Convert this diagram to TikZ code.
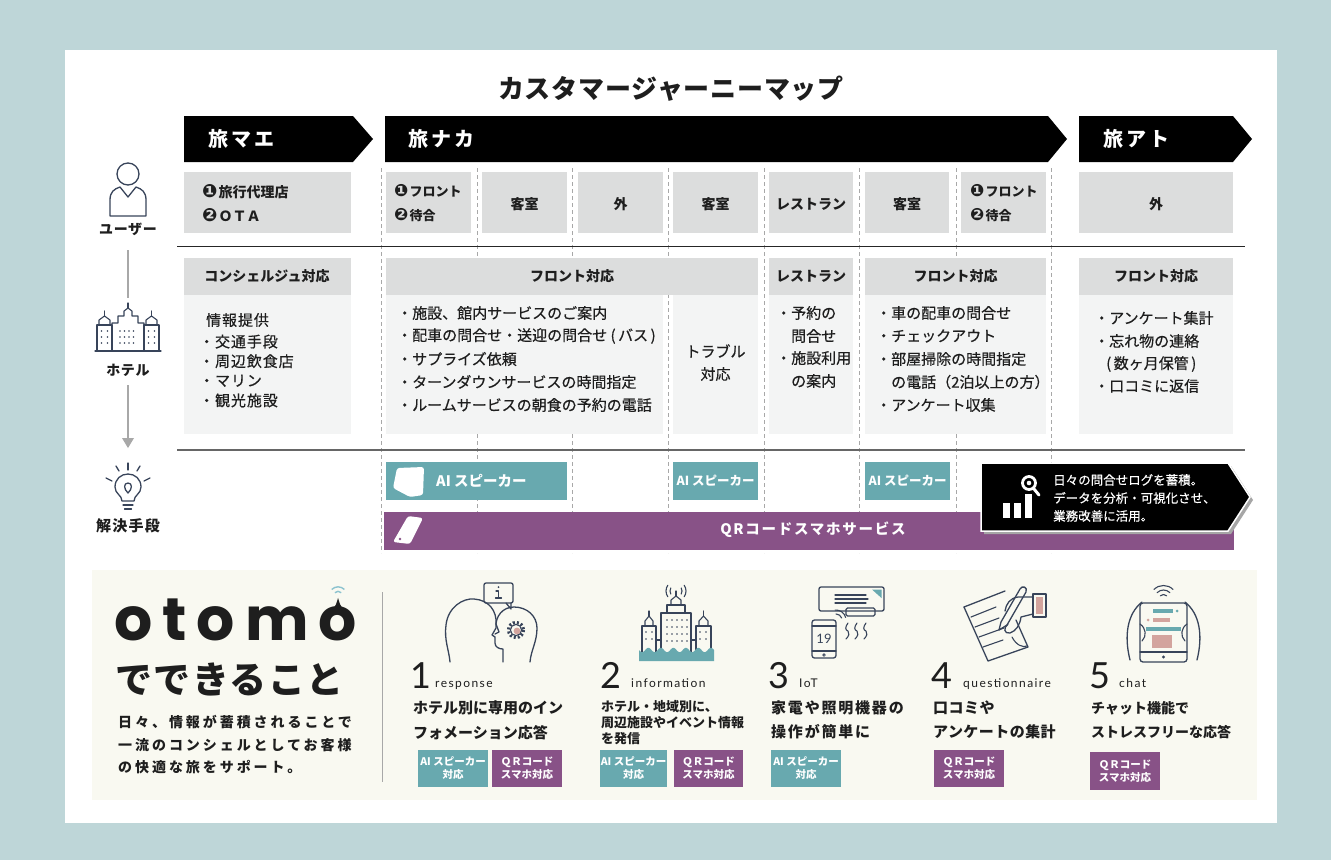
\documentclass[tikz,border=0pt]{standalone}
\usepackage{fontspec}
\setmainfont{Noto Sans CJK JP}
\newfontfamily\medfont{Noto Sans CJK JP}[FakeBold=0.5]
\newfontfamily\symfont{DejaVu Sans}
\newfontfamily\logofont{Poppins}
\newfontfamily\latinfont{Lato}
\usetikzlibrary{calc}
\definecolor{outerbg}{HTML}{BED6D8}
\definecolor{boxgray}{HTML}{DCDDDD}
\definecolor{bodygray}{HTML}{F3F4F4}
\definecolor{aiteal}{HTML}{68A9AF}
\definecolor{qrpurple}{HTML}{885287}
\definecolor{creambg}{HTML}{F9F9F1}
\definecolor{iconnavy}{HTML}{38445A}
\definecolor{pinkish}{HTML}{D3A49E}
\definecolor{inkblack}{HTML}{1E1E1E}
\definecolor{sepgray}{HTML}{A8A8A8}
\definecolor{wifiblue}{HTML}{8CC3CF}
\newcommand\fsz[1]{\fontsize{#1}{#1}\selectfont}
\newcommand\ls[1]{\addfontfeatures{LetterSpace=#1}}
\newcommand\cA{{\symfont\scalebox{1.3}{❶}}\kern1pt}
\newcommand\cB{{\symfont\scalebox{1.3}{❷}}\kern1pt}
\tikzset{
  jt/.style={inner sep=0pt, text=inkblack},
  jb/.style={jt, font=\bfseries\fsz{14}},
  jbody/.style={jt, anchor=west, font=\medfont\fsz{15}},
  tw/.style={inner sep=0pt, text=white},
  ico/.style={draw=iconnavy, line width=1.3pt, line cap=round, line join=round},
  colsep/.style={draw=sepgray, line width=0.7pt, dash pattern=on 4pt off 3pt},
  badge/.style={tw, align=center, font=\bfseries\fontsize{10.5}{13}\selectfont},
  wico/.style={fill=white, rounded corners=2.5pt}
}
\begin{document}
\begin{tikzpicture}[x=1pt,y=-1pt]
\useasboundingbox (0,0) rectangle (1331,860);
% frame
\fill[outerbg] (0,0) rectangle (1331,860);
\fill[white] (65,50) rectangle (1277,823);
\node[jt, font=\bfseries\fsz{26}\ls{3}] (title) at (671,89) {カスタマージャーニーマップ};

% dashed column guides
\foreach \x in {381,477,572,668,764,859,956,1051}
  \draw[colsep] (\x,168) -- (\x,553);

% phase banners
\fill[black] (184,116) -- (353,116) -- (373,139) -- (353,162) -- (184,162) -- cycle;
\fill[black] (385,116) -- (1048,116) -- (1067,139) -- (1048,162) -- (385,162) -- cycle;
\fill[black] (1079,116) -- (1233,116) -- (1252,139) -- (1233,162) -- (1079,162) -- cycle;
\node[tw, anchor=west, font=\bfseries\fsz{20}\ls{15}] (pre) at (208,139) {旅マエ};
\node[tw, anchor=west, font=\bfseries\fsz{20}\ls{15}] (mid) at (408,139) {旅ナカ};
\node[tw, anchor=west, font=\bfseries\fsz{20}\ls{15}] (post) at (1103,139) {旅アト};

% user row
\foreach \a/\b in {184/351,386/471,482/567,578/663,673/758,769/853,865/949,961/1046,1079/1233}
  \fill[boxgray] (\a,172) rectangle (\b,233);
\node[jb, anchor=west] (u1a) at (202,192) {\cA 旅行代理店};
\node[jb, anchor=west] (u1b) at (202,215) {\cB ＯＴＡ};
\node[jb, anchor=west, font=\bfseries\fsz{13}] (u2a) at (394,191) {\cA フロント};
\node[jb, anchor=west, font=\bfseries\fsz{13}] (u2b) at (394,215) {\cB 待合};
\node[jb] (u3) at (524.5,204) {客室};
\node[jb] (u4) at (620.5,204) {外};
\node[jb] (u5) at (715.5,204) {客室};
\node[jb] (u6) at (811,204) {レストラン};
\node[jb] (u7) at (907,204) {客室};
\node[jb, anchor=west, font=\bfseries\fsz{13}] (u8a) at (970,191) {\cA フロント};
\node[jb, anchor=west, font=\bfseries\fsz{13}] (u8b) at (970,215) {\cB 待合};
\node[jb] (u9) at (1156,204) {外};

\draw[black!85, line width=0.9pt] (177,246) -- (1245,246);

% hotel row
\foreach \a/\b in {184/351,386/758,769/853,865/1046,1079/1233}
  \fill[boxgray] (\a,258) rectangle (\b,295);
\foreach \a/\b in {184/351,386/663,673/758,769/853,865/1046,1079/1233}
  \fill[bodygray] (\a,295) rectangle (\b,434);
\node[jb] (h1) at (267,276) {コンシェルジュ対応};
\node[jb] (h2) at (572,276) {フロント対応};
\node[jb] (h3) at (811,276) {レストラン};
\node[jb] (h4) at (955.5,276) {フロント対応};
\node[jb] (h5) at (1156,276) {フロント対応};

\node[jbody, font=\medfont\fsz{15}\ls{6}] (c0) at (206,320) {情報提供};
\foreach \s [count=\i] in {・交通手段,・周辺飲食店,・マリン,・観光施設}
  \node[jbody, font=\medfont\fsz{15}\ls{6}] (c\i) at (199,{322+\i*19.6}) {\s};

\foreach \s [count=\i from 0] in {・施設、館内サービスのご案内,・配車の問合せ・送迎の問合せ (\,バス\,),・サプライズ依頼,・ターンダウンサービスの時間指定,・ルームサービスの朝食の予約の電話}
  \node[jbody] (f\i) at (397,{313+\i*23}) {\s};
\node[jt, font=\medfont\fsz{15}] (tr1) at (715.5,351) {トラブル};
\node[jt, font=\medfont\fsz{15}] (tr2) at (715.5,374) {対応};

\node[jbody] (r0) at (776,313) {・予約の};
\node[jbody] (r1) at (791,336) {問合せ};
\node[jbody] (r2) at (776,358) {・施設利用};
\node[jbody] (r3) at (791,381) {の案内};

\foreach \s [count=\i from 0] in {・車の配車の問合せ,・チェックアウト,・部屋掃除の時間指定,{\hspace*{15pt}の電話（2泊以上の方）},・アンケート収集}
  \node[jbody] (g\i) at (876,{313+\i*23}) {\s};

\node[jbody] (a0) at (1094,318) {・アンケート集計};
\node[jbody] (a1) at (1094,341) {・忘れ物の連絡};
\node[jbody] (a2) at (1106,364) {(\,数ヶ月保管\,)};
\node[jbody] (a3) at (1094,386) {・口コミに返信};

\draw[black!60, line width=1.2pt] (177,450) -- (1245,450);

% solutions row
\fill[aiteal] (386,462) rectangle (567,500);
\fill[aiteal] (673,462) rectangle (758,500);
\fill[aiteal] (865,462) rectangle (950,500);
\fill[wico] (397,468) -- (424,467) -- (423,495) -- (410,497) -- (393,488) -- cycle;
\node[tw, anchor=west, font=\bfseries\fsz{14.5}] (ai1) at (436,481) {AI スピーカー};
\node[tw, font=\bfseries\fsz{12.5}] (ai2) at (715.5,481) {AI スピーカー};
\node[tw, font=\bfseries\fsz{12.5}] (ai3) at (907.5,481) {AI スピーカー};

\fill[qrpurple] (384,512) rectangle (1234,550);
\fill[wico] (408,516) -- (423,518) -- (410,544) -- (393,542) -- cycle;
\fill[qrpurple] (400,539) circle (1.3);
\node[tw, font=\bfseries\fsz{14.5}\ls{12}] (qr) at (813,530) {QRコードスマホサービス};

% log callout
\fill[black!35] (984,466) -- (1231,466) -- (1253,500) -- (1231,534) -- (984,534) -- cycle;
\filldraw[fill=black, draw=white, line width=1.5pt] (981,463) -- (1228,463) -- (1250,497) -- (1228,531) -- (981,531) -- cycle;
\draw[white, line width=2.8pt] (1029,483) circle (6.5);
\fill[white] (1029,483) circle (2.3);
\draw[white, line width=3pt, line cap=round] (1034,489) -- (1039,495);
\fill[white] (1003,503) rectangle (1010,518);
\fill[white] (1014,503) rectangle (1021,518);
\fill[white] (1025,494) rectangle (1032,518);
\node[tw, anchor=west, font=\medfont\fsz{12.5}] (lg1) at (1053,480) {日々の問合せログを蓄積。};
\node[tw, anchor=west, font=\medfont\fsz{12.5}] (lg2) at (1053,498) {データを分析・可視化させ、};
\node[tw, anchor=west, font=\medfont\fsz{12.5}] (lg3) at (1053,516) {業務改善に活用。};

% left axis: user
\draw[ico] (128,174) circle (11);
\draw[ico] (110,216) -- (110,200) .. controls (110,192) and (114,189) .. (120,187) -- (128,197) -- (136,187) .. controls (142,189) and (146,192) .. (146,200) -- (146,216) -- cycle;
\node[jb, font=\bfseries\fsz{14}\ls{5}] (lu) at (128,229) {ユーザー};
\draw[sepgray, line width=1.3pt] (128,250) -- (128,298);
% left axis: hotel
\draw[ico, line width=1.1pt] (95,351) -- (161,351);
\draw[ico, line width=1.1pt] (97,351) -- (97,325) -- (112,325) -- (112,351);
\draw[ico, line width=1.1pt] (99,325) -- (99,320) -- (104.5,316) -- (110,320) -- (110,325);
\draw[ico, line width=1.1pt] (104.5,316) -- (104.5,311);
\draw[ico, line width=1.1pt] (112,351) -- (112,323) -- (118,323) -- (118,316) -- (124,316) -- (124,311) -- (128,308) -- (132,311) -- (132,316) -- (138,316) -- (138,323) -- (144,323) -- (144,351);
\draw[ico, line width=1.1pt] (128,308) -- (128,303);
\draw[ico, line width=1.1pt] (144,351) -- (144,325) -- (159,325) -- (159,351);
\draw[ico, line width=1.1pt] (146,325) -- (146,320) -- (151.5,316) -- (157,320) -- (157,325);
\draw[ico, line width=1.1pt] (151.5,316) -- (151.5,311);
\foreach \yy in {331,337,343}{
  \fill[iconnavy] (101.5,\yy) circle (0.85); \fill[iconnavy] (107.5,\yy) circle (0.85);
  \fill[iconnavy] (148.5,\yy) circle (0.85); \fill[iconnavy] (154.5,\yy) circle (0.85);
  \foreach \xx in {120,124.5,129,133.5} \fill[iconnavy] (\xx,\yy) circle (0.85);}
\node[jb, font=\bfseries\fsz{14}\ls{5}] (lh) at (128,370) {ホテル};
\draw[sepgray, line width=1.3pt] (128,385) -- (128,439);
\fill[sepgray] (122,438) -- (134,438) -- (128,448) -- cycle;
% left axis: solution
\draw[ico] (122,501) .. controls (122,495) and (115,494) .. (115,487) .. controls (115,479) and (121,474) .. (128,474) .. controls (135,474) and (141,479) .. (141,487) .. controls (141,494) and (134,495) .. (134,501) -- cycle;
\draw[ico] (123,505) -- (133,505);
\draw[ico] (124.5,509) -- (131.5,509);
\draw[ico] (128,493) .. controls (123.5,489) and (123.5,483) .. (128,483) .. controls (132.5,483) and (132.5,489) .. (128,493);
\draw[ico] (128,463) -- (128,470);
\draw[ico] (116,466) -- (119,471);
\draw[ico] (140,466) -- (137,471);
\draw[ico] (106,478) -- (112,481);
\draw[ico] (150,478) -- (144,481);
\node[jb, font=\bfseries\fsz{15}\ls{8}] (ls) at (128,526) {解決手段};

% what otomo does
\fill[creambg] (92,570) rectangle (1257,800);
\draw[sepgray, line width=1pt] (382,592) -- (382,782);
\node[jt, anchor=base west, font=\logofont\bfseries\fsz{60}] (logoA) at (114,640) {o\kern10pt t\kern10pt o\kern10pt m};
\node[jt, anchor=base west, font=\logofont\bfseries\fsz{60}] (logoB) at ([xshift=10pt]logoA.base east) {o};
\fill[inkblack] ([xshift=-5pt,yshift=-3pt]logoB.north) .. controls ([xshift=-2pt,yshift=1pt]logoB.north) .. ([yshift=8pt]logoB.north) .. controls ([xshift=2pt,yshift=1pt]logoB.north) .. ([xshift=5pt,yshift=-3pt]logoB.north) -- cycle;
\draw[wifiblue, line width=1.4pt] ([yshift=10pt]logoB.north) ++(225:4.5) arc[start angle=225, end angle=315, radius=4.5];
\draw[wifiblue, line width=1.4pt] ([yshift=10pt]logoB.north) ++(225:9) arc[start angle=225, end angle=315, radius=9];
\node[jt, anchor=west, font=\bfseries\fsz{37}\ls{4}] (dekiru) at (115,679) {でできること};
\node[jt, anchor=west, font=\bfseries\fsz{14}\ls{21}] (d1) at (118,722) {日々、情報が蓄積されることで};
\node[jt, anchor=west, font=\bfseries\fsz{14}\ls{21}] (d2) at (118,745) {一流のコンシェルとしてお客様};
\node[jt, anchor=west, font=\bfseries\fsz{14}\ls{21}] (d3) at (118,767) {の快適な旅をサポート。};

% 1 response
\draw[ico, rounded corners=2pt] (484,583) rectangle (513,603);
\draw[ico] (506,603) -- (511,609) -- (511,603);
\draw[ico, line width=1.1pt] (496,591) -- (498.5,591) -- (498.5,598);
\draw[ico, line width=1.1pt] (495.5,598) -- (501.5,598);
\fill[iconnavy] (498.5,587) circle (1);
\draw[ico] (450,662) .. controls (449,650) and (444,640) .. (446,625) .. controls (448,607) and (463,598) .. (474,599) .. controls (489,600) and (497,611) .. (496,624) -- (499,632) -- (495,634);
\draw[ico] (503,662) -- (503,649) .. controls (499,649) and (495,647) .. (495,643) -- (495,637) -- (492,635) -- (496,628) .. controls (495,616) and (503,607) .. (514,607) .. controls (527,607) and (537,616) .. (537,628) .. controls (537,642) and (531,650) .. (530,662);
\draw[iconnavy, line width=3.2pt, dash pattern=on 2pt off 2pt] (516,630) circle (7.5);
\fill[creambg] (516,630) circle (5.6);
\draw[ico, line width=1.1pt] (516,630) circle (5.6);
\fill[pinkish] (517,631) circle (3.4);
\node[jt, anchor=base west, font=\latinfont\fsz{36}] (n1) at (410,688) {1};
\node[jt, anchor=base west, font=\latinfont\fsz{12}\ls{12}] (l1) at (435,687) {response};
\node[jt, anchor=west, font=\bfseries\fsz{15}] (t1a) at (413,708) {ホテル別に専用のイン};
\node[jt, anchor=west, font=\bfseries\fsz{15}] (t1b) at (413,733) {フォメーション応答};
\fill[aiteal] (418,750) rectangle (488,787);
\node[badge] (b1a) at (453,768.5) {AI スピーカー\\対応};
\fill[qrpurple] (492,750) rectangle (562,787);
\node[badge] (b1b) at (527,768.5) {ＱＲコード\\スマホ対応};

% 2 information
\draw[ico, line width=1.1pt] (642,652) -- (642,626) -- (656,626) -- (656,652);
\draw[ico, line width=1.1pt] (645,626) -- (645,621) -- (649,616) -- (653,621) -- (653,626);
\draw[ico, line width=1.1pt] (649,616) -- (649,611);
\draw[ico, line width=1.1pt] (661,652) -- (661,613) -- (691,613) -- (691,652);
\draw[ico, line width=1.1pt] (667,613) -- (667,605) -- (685,605) -- (685,613);
\draw[ico, line width=1.1pt] (671,605) -- (671,600) -- (676,596) -- (681,600) -- (681,605);
\draw[ico, line width=1.1pt] (676,596) -- (676,591);
\draw[ico, line width=1.1pt] (696,652) -- (696,626) -- (711,626) -- (711,652);
\draw[ico, line width=1.1pt] (699,626) -- (699,621) -- (703.5,616) -- (708,621) -- (708,626);
\draw[ico, line width=1.1pt] (703.5,616) -- (703.5,611);
\draw[ico, line width=1.1pt] (656,640) -- (661,640);
\draw[ico, line width=1.1pt] (691,640) -- (696,640);
\foreach \yy in {620,627,634,641}{
  \foreach \xx in {667,672,677,682,687} \fill[iconnavy] (\xx,\yy) circle (0.85);}
\foreach \yy in {632,639}{
  \fill[iconnavy] (646,\yy) circle (0.85); \fill[iconnavy] (652,\yy) circle (0.85);
  \fill[iconnavy] (700,\yy) circle (0.85); \fill[iconnavy] (706,\yy) circle (0.85);}
\draw[ico, line width=1.1pt] (676,591) ++(150:6) arc[start angle=150, end angle=210, radius=6];
\draw[ico, line width=1.1pt] (676,591) ++(145:10) arc[start angle=145, end angle=215, radius=10];
\draw[ico, line width=1.1pt] (676,591) ++(-30:6) arc[start angle=-30, end angle=30, radius=6];
\draw[ico, line width=1.1pt] (676,591) ++(-35:10) arc[start angle=-35, end angle=35, radius=10];
\fill[aiteal] (639,661) -- plot[domain=639:714, samples=90] (\x,{650+2.2*sin((\x-639)/12.5*360)}) -- (714,661) -- cycle;
\node[jt, anchor=base west, font=\latinfont\fsz{36}] (n2) at (600,688) {2};
\node[jt, anchor=base west, font=\latinfont\fsz{12}\ls{12}] (l2) at (631,687) {information};
\node[jt, anchor=west, font=\bfseries\fsz{13}] (t2a) at (601,707) {ホテル・地域別に、};
\node[jt, anchor=west, font=\bfseries\fsz{13}] (t2b) at (601,723) {周辺施設やイベント情報};
\node[jt, anchor=west, font=\bfseries\fsz{13}] (t2c) at (601,739) {を発信};
\fill[aiteal] (600,750) rectangle (667,787);
\node[badge] (b2a) at (633.5,768.5) {AI スピーカー\\対応};
\fill[qrpurple] (674,750) rectangle (743,787);
\node[badge] (b2b) at (708.5,768.5) {ＱＲコード\\スマホ対応};

% 3 IoT
\draw[ico, rounded corners=2pt] (819,587) rectangle (884,611);
\fill[aiteal] (872,589.5) -- (881.5,589.5) -- (881.5,598) -- cycle;
\draw[ico, line width=1.1pt] (835,595) -- (866,595);
\draw[ico, line width=1.1pt] (835,599) -- (868,599);
\draw[ico, line width=1.1pt] (835,603) -- (866,603);
\draw[ico, rounded corners=1.5pt] (846,608) rectangle (875,616);
\draw[ico, rounded corners=2.5pt] (812,620) rectangle (836,658);
\draw[ico, line width=1.1pt] (812,626) -- (836,626);
\draw[ico, line width=1.1pt] (812,651) -- (836,651);
\draw[ico, line width=0.8pt] (824,655) circle (1.3);
\node[jt, text=iconnavy, font=\latinfont\fsz{13}] (ph) at (824,638.5) {19};
\draw[ico, line width=1.1pt] (836,620) ++(270:6) arc[start angle=270, end angle=340, radius=6];
\draw[ico, line width=1.1pt] (836,620) ++(265:10) arc[start angle=265, end angle=345, radius=10];
\foreach \xx in {848,857,866}
  \draw[ico, line width=1.1pt] (\xx,623) .. controls (\xx-3,627) and (\xx-3,630) .. (\xx,631) .. controls (\xx+2,633) and (\xx+1,636) .. (\xx-2,639);
\node[jt, anchor=base west, font=\latinfont\fsz{36}] (n3) at (768,688) {3};
\node[jt, anchor=base west, font=\latinfont\fsz{12}\ls{12}] (l3) at (799,687) {IoT};
\node[jt, anchor=west, font=\bfseries\fsz{15}\ls{12}] (t3a) at (771,708) {家電や照明機器の};
\node[jt, anchor=west, font=\bfseries\fsz{15}\ls{12}] (t3b) at (771,732) {操作が簡単に};
\fill[aiteal] (771,750) rectangle (841,787);
\node[badge] (b3a) at (806,768.5) {AI スピーカー\\対応};

% 4 questionnaire
\draw[ico] (964,607) -- (1005,591);
\draw[ico] (964,607) -- (988,661) -- (1028,647) -- (1016,620);
\draw[ico, line width=1.1pt] (971,617) -- (996,607);
\draw[ico, line width=1.1pt] (975,627) -- (999,618);
\draw[ico, line width=1.1pt] (979,637) -- (1004,628);
\draw[ico, line width=1.1pt] (983,647) -- (1003,640);
\draw[ico] (999,630) -- (1001,622) -- (1020,589) .. controls (1022,585) and (1028,587) .. (1026,592) -- (1007,625) -- cycle;
\draw[ico] (1033,597) -- (1018,597) .. controls (1010,598) and (1006,604) .. (1005,611);
\draw[ico] (1033,614) -- (1021,617) .. controls (1020,625) and (1016,631) .. (1010,633) .. controls (1004,634) and (1003,628) .. (1008,624);
\draw[ico, line width=1.1pt] (1012,637) .. controls (1016,645) and (1023,648) .. (1027,646);
\draw[ico] (1033,594) rectangle (1046,617);
\fill[pinkish] (1036,597) rectangle (1043,614);
\node[jt, anchor=base west, font=\latinfont\fsz{36}] (n4) at (931,688) {4};
\node[jt, anchor=base west, font=\latinfont\fsz{12}\ls{12}] (l4) at (963,687) {questionnaire};
\node[jt, anchor=west, font=\bfseries\fsz{15}\ls{3}] (t4a) at (933,708) {口コミや};
\node[jt, anchor=west, font=\bfseries\fsz{15}\ls{3}] (t4b) at (933,732) {アンケートの集計};
\fill[qrpurple] (934,750) rectangle (1004,787);
\node[badge] (b4a) at (969,768.5) {ＱＲコード\\スマホ対応};

% 5 chat
\draw[ico, line width=1.1pt] (1163.5,599) ++(225:4.5) arc[start angle=225, end angle=315, radius=4.5];
\draw[ico, line width=1.1pt] (1163.5,599) ++(225:9) arc[start angle=225, end angle=315, radius=9];
\draw[ico, line width=1.1pt] (1163.5,599) ++(225:13.5) arc[start angle=225, end angle=315, radius=13.5];
\draw[ico, rounded corners=3pt] (1140,603) rectangle (1187,662);
\draw[ico, line width=1.1pt] (1140,652) -- (1187,652);
\fill[iconnavy] (1163.5,657) circle (1.6);
\fill[aiteal] (1153,609) rectangle (1173,613);
\fill[aiteal] (1177,611) circle (1.5);
\fill[pinkish] (1153,618) rectangle (1170,622);
\fill[pinkish] (1148,620) circle (1.5);
\fill[aiteal] (1146,627) rectangle (1181,631);
\fill[pinkish] (1152,635) rectangle (1172,648);
\draw[ico] (1130,660) .. controls (1124,636) and (1127,614) .. (1142,602);
\draw[ico] (1197,660) .. controls (1203,636) and (1200,614) .. (1185,602);
\draw[ico, line width=1.1pt] (1140,624) .. controls (1146,628) and (1147,636) .. (1142,641);
\draw[ico, line width=1.1pt] (1187,624) .. controls (1181,628) and (1180,636) .. (1185,641);
\node[jt, anchor=base west, font=\latinfont\fsz{36}] (n5) at (1089,688) {5};
\node[jt, anchor=base west, font=\latinfont\fsz{12}\ls{12}] (l5) at (1119,687) {chat};
\node[jt, anchor=west, font=\bfseries\fsz{14}] (t5a) at (1091,708) {チャット機能で};
\node[jt, anchor=west, font=\bfseries\fsz{14}] (t5b) at (1091,732) {ストレスフリーな応答};
\fill[qrpurple] (1090,752) rectangle (1160,790);
\node[badge] (b5a) at (1125,771) {ＱＲコード\\スマホ対応};
\end{tikzpicture}
\end{document}
